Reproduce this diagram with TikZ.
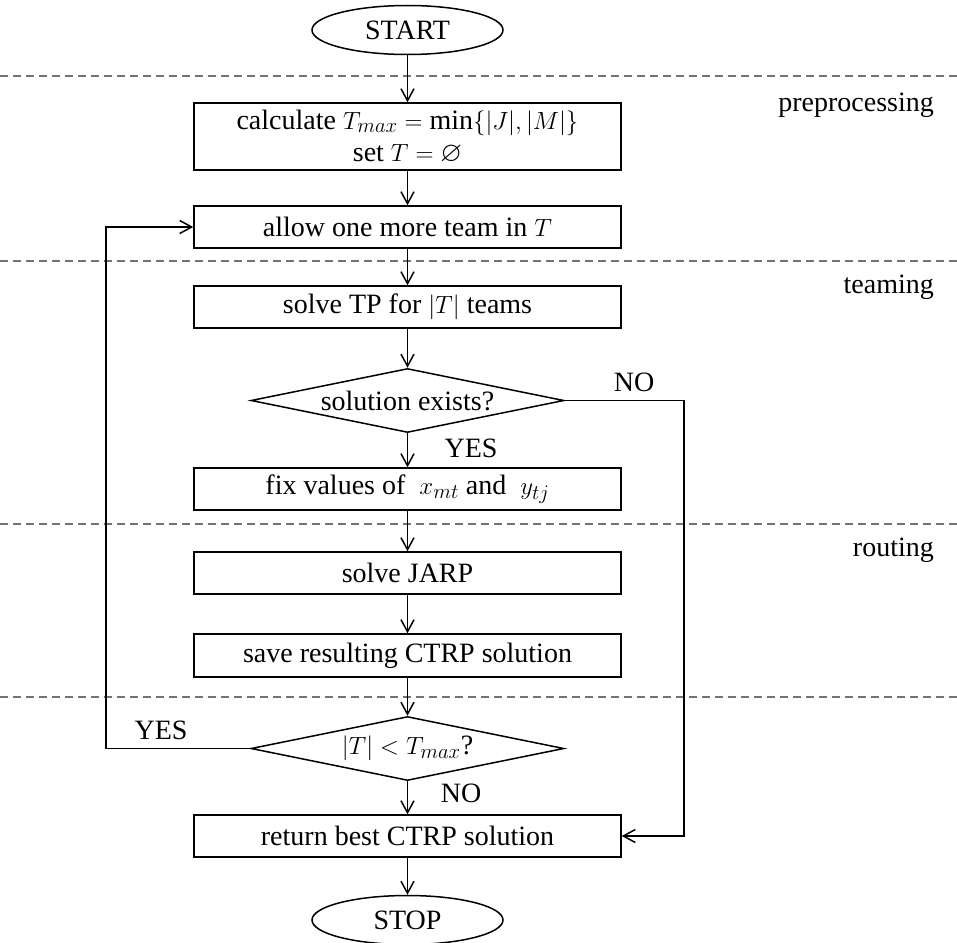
\documentclass[tikz,border=0pt]{standalone}
\usepackage{amssymb}
\usepackage{fontspec}
\setmainfont{Liberation Serif}
\usetikzlibrary{arrows.meta,shapes.geometric,calc}
\tikzset{
  base/.style={draw, line width=1.5pt, inner sep=0pt, align=center},
  procbox/.style={base, rectangle, minimum width=427pt},
  termnode/.style={base, ellipse, minimum width=191pt, minimum height=49pt},
  decide/.style={base, diamond, minimum width=313pt, minimum height=64pt},
  arr/.style={line width=1.5pt, -{Straight Barb[length=12pt,width=13pt,line width=1.5pt]}},
  sep/.style={draw=black!55, line width=1.3pt, dash pattern=on 8pt off 5pt},
  phase/.style={anchor=east, inner sep=0pt},
  lbl/.style={inner sep=0pt},
  every node/.style={font=\fontsize{28}{34}\selectfont}
}
\begin{document}
\begin{tikzpicture}[x=1pt,y=-1pt]
\useasboundingbox (0,0) rectangle (957,942);
% phase separators
\draw[sep] (0,76) -- (957,76);
\draw[sep] (0,261) -- (957,261);
\draw[sep] (0,524) -- (957,524);
\draw[sep] (0,697) -- (957,697);
\node[phase] (ph1) at (934,105) {preprocessing};
\node[phase] (ph2) at (934,287) {teaming};
\node[phase] (ph3) at (934,550) {routing};
% nodes
\node[termnode] (start) at (407.5,30) {START};
\node[procbox, minimum height=67pt] (calc) at (407.5,136.5) {calculate $T_{max}=\min\{|J|,|M|\}$\\[-2pt] set $T=\varnothing$};
\node[procbox, minimum height=42pt] (allow) at (407.5,227) {allow one more team in $T$};
\node[procbox, minimum height=42pt] (tp) at (407.5,307) {solve TP for $|T|$ teams};
\node[decide] (d1) at (407.5,400.5) {};
\node (d1t) at (d1) {solution exists?};
\node[procbox, minimum height=42pt] (fix) at (407.5,489) {fix values of \ $x_{mt}$ and \ $y_{tj}$};
\node[procbox, minimum height=42pt] (jarp) at (407.5,573) {solve JARP};
\node[procbox, minimum height=43pt] (save) at (407.5,655.5) {save resulting CTRP solution};
\node[decide] (d2) at (407.5,748.5) {};
\node (d2t) at (d2) {$|T|<T_{max}$?};
\node[procbox, minimum height=42pt] (ret) at (407.5,836) {return best CTRP solution};
\node[termnode] (stop) at (407.5,920) {STOP};
% edge labels
\node[lbl] (no1) at (634,382) {NO};
\node[lbl] (yes1) at (471,448) {YES};
\node[lbl] (yes2) at (161,730) {YES};
\node[lbl] (no2) at (461,793) {NO};
% helper coordinates
\coordinate (rc) at (684,0);
\coordinate (lc) at (106,0);
% connectors
\draw[arr] (start) -- (calc);
\draw[arr] (calc) -- (allow);
\draw[arr] (allow) -- (tp);
\draw[arr] (tp) -- (d1.north);
\draw[arr] (d1.south) -- (fix);
\draw[arr] (fix) -- (jarp);
\draw[arr] (jarp) -- (save);
\draw[arr] (save) -- (d2.north);
\draw[arr] (d2.south) -- (ret);
\draw[arr] (ret) -- (stop);
\draw[arr] (d1.east) -| (rc |- ret.east) -- (ret.east);
\draw[arr] (d2.west) -| (lc |- allow.west) -- (allow.west);
\end{tikzpicture}
\end{document}
